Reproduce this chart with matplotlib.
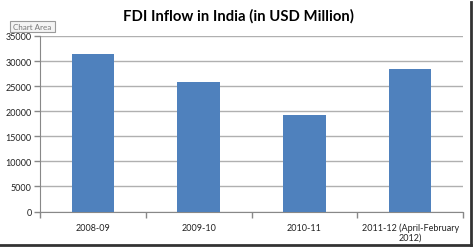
import numpy as np
import matplotlib.pyplot as plt
from matplotlib.patches import FancyBboxPatch

years = ['2008-09', '2009-10', '2010-11', '2011-12 (April-February\n2012)']
fdi = [31400, 25840, 19300, 28500]
yticks = [0, 5000, 10000, 15000, 20000, 25000, 30000, 35000]

plt.rcParams['font.family'] = ['Lato', 'DejaVu Sans']

fig = plt.figure(figsize=(4.74, 2.51), dpi=100)
ax = fig.add_axes([40 / 474, 1 - 212.5 / 251, 423 / 474, 175.5 / 251])

x = np.arange(len(years))
ax.bar(x, fdi, width=0.4, color='#4f81bd', zorder=3)
ax.set_xlim(-0.5, len(years) - 0.5)
ax.set_ylim(0, 35000)
ax.set_yticks(yticks)
ax.set_yticklabels([str(v) for v in yticks], fontsize=6.5, color='#222222')
ax.yaxis.grid(True, color='#b0b0b0', linewidth=1, zorder=0)

# categories sit between tick marks, like Excel
ax.set_xticks(x)
ax.set_xticklabels(years, fontsize=6.5, color='#222222', linespacing=1.1)
ax.tick_params(axis='x', length=0, pad=8)
ax.set_xticks(np.arange(-0.5, len(years)), minor=True)
ax.tick_params(axis='x', which='minor', length=4, color='#888888', width=1)
ax.tick_params(axis='y', length=4, color='#888888', width=1, pad=2)

for s in ['top', 'right']:
    ax.spines[s].set_visible(False)
ax.spines['left'].set_color('#888888')
ax.spines['bottom'].set_color('#888888')

fig.text(238 / 474, 1 - 16 / 251, 'FDI Inflow in India (in USD Million)',
         ha='center', va='center', fontsize=10.7, fontweight='bold')

# "Chart Area" tooltip box
tip = FancyBboxPatch((10 / 474, 1 - 32.5 / 251), 45 / 474, 11 / 251,
                     boxstyle='square,pad=0', transform=fig.transFigure,
                     facecolor='#f4f4f4', edgecolor='#9a9a9a', linewidth=0.8)
fig.patches.append(tip)
fig.text(32.5 / 474, 1 - 27 / 251, 'Chart Area', ha='center', va='center',
         fontsize=5.8, color='#777777')

# dark frame on right and bottom edges
fig.add_artist(plt.Line2D([471 / 474, 471 / 474], [1 - 3 / 251, 1 - 246 / 251],
                          transform=fig.transFigure, color='#333333', linewidth=2))
fig.add_artist(plt.Line2D([0, 471 / 474], [1 - 246 / 251, 1 - 246 / 251],
                          transform=fig.transFigure, color='#333333', linewidth=2))

fig.savefig('out.png', dpi=100)
